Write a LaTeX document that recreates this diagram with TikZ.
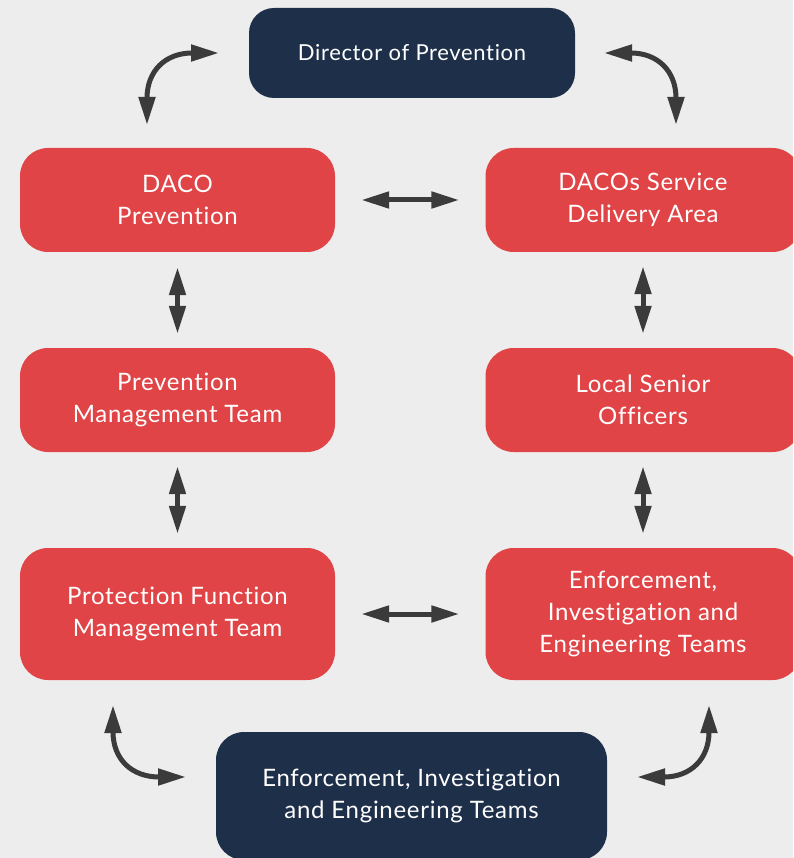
\documentclass[tikz,border=0pt]{standalone}
\usepackage{fontspec}
\setmainfont{Lato}[LetterSpace=3, Ligatures=NoCommon]
\usetikzlibrary{arrows.meta}
\definecolor{bgpanel}{HTML}{EDEDED}
\definecolor{redbox}{HTML}{E04446}
\definecolor{navybox}{HTML}{1E2F4A}
\definecolor{linkgrey}{HTML}{3B3B3B}
\tikzset{
  x=1pt, y=-1pt,
  card/.style={rounded corners=28pt, inner sep=0pt, align=center,
    text=white, font=\fontsize{24}{32}\selectfont,
    minimum width=315pt, minimum height=104pt},
  redcard/.style={card, fill=redbox},
  navycard/.style={card, fill=navybox},
  link/.style={draw=linkgrey, line width=5pt,
    {Triangle[length=28pt,width=16pt]}-{Triangle[length=28pt,width=16pt]}},
}
\begin{document}
\begin{tikzpicture}
\useasboundingbox (0,0) rectangle (793,858);
\clip (0,0) rectangle (793,858);
\fill[bgpanel] (0,0) rectangle (793,858);

% boxes
\node[navycard, minimum width=326pt, minimum height=90pt, rounded corners=25pt,
      font=\fontsize{22}{30}\selectfont] (dir) at (412,53) {Director of Prevention};
\node[redcard] (dp)   at (177.5,200) {DACO\\Prevention};
\node[redcard] (dsda) at (643,200)   {DACOs Service\\Delivery Area};
\node[redcard] (pmt)  at (177.5,400) {Prevention\\Management Team};
\node[redcard] (lso)  at (643,400)   {Local Senior\\Officers};
\node[redcard, minimum height=132pt] (pfmt) at (177.5,614) {Protection Function\\Management Team};
\node[redcard, minimum height=132pt] (enf)  at (643,614) {Enforcement,\\Investigation and\\Engineering Teams};
\node[navycard, minimum width=391pt, minimum height=128pt] (eie) at (411.5,796) {Enforcement, Investigation\\and Engineering Teams};

% straight two-way links
\draw[link, shorten <=26pt, shorten >=26pt] (dp.east) -- (dsda.west);
\draw[link, shorten <=26pt, shorten >=26pt] (pfmt.east) -- (enf.west);
\draw[link, shorten <=15pt, shorten >=14pt] (dp.south) -- (pmt.north);
\draw[link, shorten <=14pt, shorten >=14pt] (pmt.south) -- (pfmt.north);
\draw[link, shorten <=14pt, shorten >=14pt] (dsda.south) -- (lso.north);
\draw[link, shorten <=14pt, shorten >=14pt] (lso.south) -- (enf.north);

% curved two-way links at the corners
\coordinate (tlA) at (147,125);
\coordinate (tlB) at (219,53);
\coordinate (trA) at (604,53);
\coordinate (trB) at (676,125);
\coordinate (blA) at (113,705);
\coordinate (blB) at (186,777);
\coordinate (brA) at (709,705);
\coordinate (brB) at (637,777);
\draw[link] (tlA) to[out=90,in=180,looseness=1.35] (tlB);
\draw[link] (trA) to[out=0,in=90,looseness=1.35] (trB);
\draw[link] (blA) to[out=-90,in=180,looseness=1.35] (blB);
\draw[link] (brA) to[out=-90,in=0,looseness=1.35] (brB);
\end{tikzpicture}
\end{document}
